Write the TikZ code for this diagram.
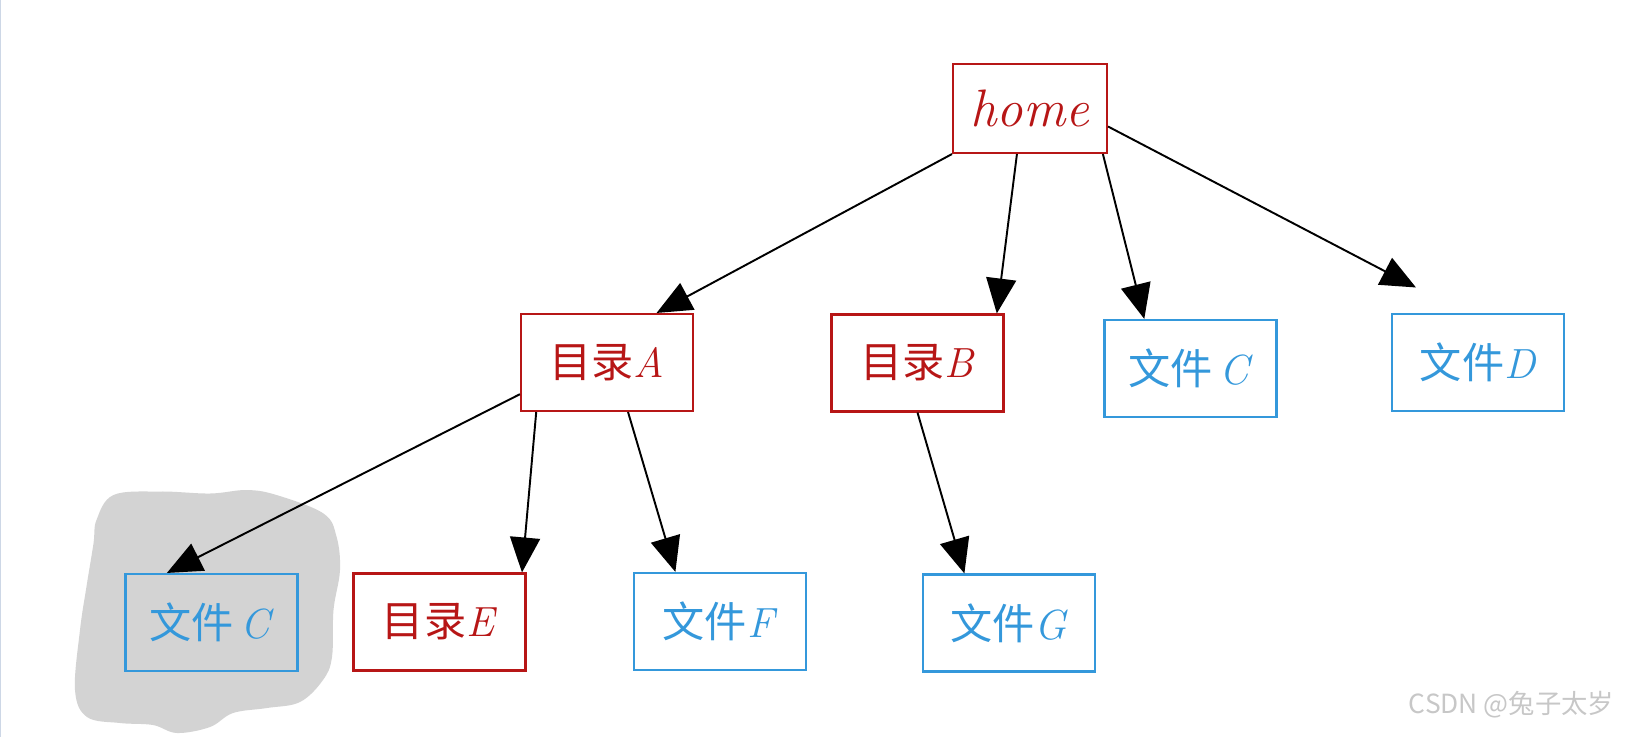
\documentclass[tikz,border=0pt]{standalone}
\usepackage{fontspec}
\newfontfamily\cjk{Noto Sans CJK SC}
\usepackage{xcolor}
\usepackage{tikz}
\usetikzlibrary{arrows.meta, positioning}
\definecolor{dirred}{RGB}{183,22,22}
\definecolor{fileblue}{RGB}{52,152,219}
\definecolor{blobgray}{RGB}{211,211,211}

\begin{document}
\begin{tikzpicture}[>={Triangle[length=7mm,width=6mm]}, line width=1.1pt,
    dirbox/.style={draw=dirred, text=dirred, line width=1.2pt, minimum width=3.44cm,
        minimum height=1.94cm, inner sep=0pt, font=\fontsize{24}{28}\selectfont},
    filebox/.style={dirbox, draw=fileblue, text=fileblue}]
    \useasboundingbox (0,0) rectangle (32.54,-14.74);
    \draw[color={rgb,255:red,205;green,215;blue,230}, line width=0.8pt] (0.01,0) -- (0.01,-14.74);

    % 1. Vùng tô xám
    \fill[blobgray] plot[smooth cycle, tension=0.6] coordinates {
        (1.93,-10.40) (2.27,-9.90) (3.20,-9.83) (4.20,-9.87) (4.93,-9.80) (5.53,-9.90)
        (6.47,-10.27) (6.73,-10.73) (6.80,-11.40) (6.67,-12.20) (6.64,-13.14) (6.46,-13.60)
        (6.00,-14.04) (5.34,-14.16) (4.66,-14.26) (4.20,-14.54) (3.54,-14.66) (3.06,-14.50)
        (2.40,-14.46) (1.74,-14.34) (1.50,-13.80) (1.60,-12.60) (1.73,-11.73) (1.87,-10.87)};

    % 2. Các nút
    \node[dirbox, minimum width=3.08cm, minimum height=1.78cm, font=\fontsize{30}{34}\selectfont]
        (home) at (20.6,-2.17) {\textit{home}};
    \node[dirbox] (dirA) at (12.14,-7.25) {{\cjk 目录}\textit{A}};
    \node[dirbox] (dirB) at (18.35,-7.26) {{\cjk 目录}\textit{B}};
    \node[filebox] (fileC) at (23.81,-7.37) {{\cjk 文件}\,\textit{C}};
    \node[filebox] (fileD) at (29.56,-7.25) {{\cjk 文件}\textit{D}};
    \node[filebox] (fileCC) at (4.23,-12.45) {{\cjk 文件}\,\textit{C}};
    \node[dirbox] (dirE) at (8.79,-12.44) {{\cjk 目录}\textit{E}};
    \node[filebox] (fileF) at (14.40,-12.43) {{\cjk 文件}\textit{F}};
    \node[filebox] (fileG) at (20.18,-12.46) {{\cjk 文件}\textit{G}};

    % 3. Mũi tên
    \draw[->] (home.south west) -- (dirA.45);
    \draw[->] (home.-106) -- (dirB.32);
    \draw[->] (home.-32) -- (fileC.133);
    \draw[->, shorten >=1.1cm] (home.-13) -- (fileD.105);
    \draw[->] (dirA.200) -- (fileCC.132);
    \draw[->] (dirA.-145) -- (dirE.31);
    \draw[->] (dirA.-67) -- (fileF.132);
    \draw[->] (dirB.south) -- (fileG.132);

    % 4. Chữ ký
    \node[anchor=east, text=black!22, font=\cjk\fontsize{15}{18}\selectfont] (mark) at (32.42,-14.1) {CSDN @兔子太岁};
\end{tikzpicture}
\end{document}
